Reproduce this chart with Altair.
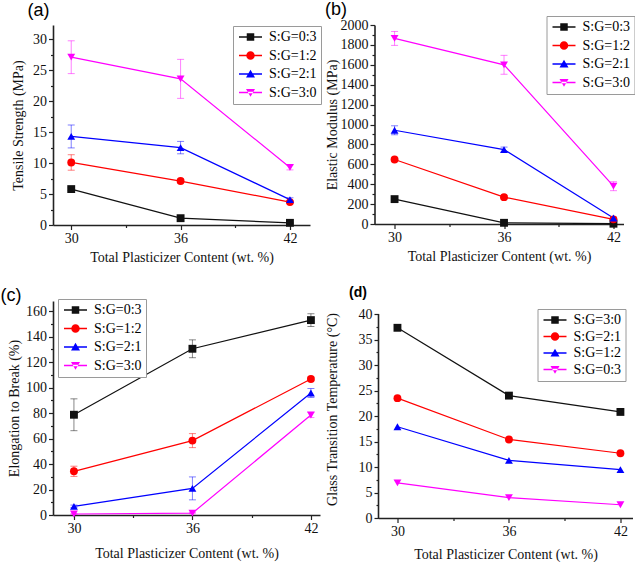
import math
import altair as alt
import pandas as pd

X_VALUES = [30, 36, 42]
SERIES_ABC = ["S:G=0:3", "S:G=1:2", "S:G=2:1", "S:G=3:0"]
SERIES_D = ["S:G=3:0", "S:G=2:1", "S:G=1:2", "S:G=0:3"]
COLORS = ["#111111", "#FF0000", "#0000FF", "#FF00FF"]
SHAPES = ["square", "circle", "triangle-up", "triangle-down"]

TENSILE = [[5.8, 1.1, 0.35], [10.1, 7.1, 3.7], [14.3, 12.5, 4.1], [27.1, 23.6, 9.3]]
TENSILE_ERR = [[0.2, 0.2, 0.1], [1.25, 0.3, 0.2], [1.85, 1.0, 0.3], [2.65, 3.15, 0.4]]
MODULUS = [[250, 12, 3], [648, 270, 47], [942, 748, 60], [1865, 1600, 380]]
MODULUS_ERR = [[10, 5, 2], [15, 15, 5], [45, 25, 10], [70, 95, 45]]
ELONG = [[78.7, 130.5, 153.0], [34.3, 58.4, 106.8], [6.8, 20.9, 95.8], [0.8, 1.5, 78.5]]
ELONG_ERR = [[12.5, 7.0, 5.0], [4.0, 5.5, 1.5], [1.0, 9.0, 3.5], [0.3, 0.5, 2.0]]
TG = [[37.3, 24.0, 20.8], [23.5, 15.4, 12.7], [17.9, 11.3, 9.5], [6.9, 4.0, 2.6]]
TG_AXIS_TOP = 40

X_TICKS = [30, 33, 36, 39, 42]
XTITLE = "Total Plasticizer Content (wt. %)"

SERIF = "Liberation Serif"
SANS = "Liberation Sans"

# legend symbols: a short line with the marker on it (unit path, only M/L/Z)
LINE = "M-1,-0.13L3.6,-0.13L3.6,0.13L-1,0.13Z "
CIRCLE = "M" + "L".join(
    f"{1.3 + 0.85 * math.cos(a * math.pi / 8):.3f},{0.85 * math.sin(a * math.pi / 8):.3f}"
    for a in range(16)
) + "Z"
LEGEND_PATHS = [
    LINE + "M0.55,-0.75L2.05,-0.75L2.05,0.75L0.55,0.75Z",
    LINE + CIRCLE,
    LINE + "M1.3,-0.85L2.2,0.7L0.4,0.7Z",
    LINE + "M1.3,0.85L2.2,-0.7L0.4,-0.7Z",
]


def frame(means, errs, series):
    rows = []
    for s, name in enumerate(series):
        for i, xv in enumerate(X_VALUES):
            m = means[s][i]
            e = errs[s][i] if errs else 0.0
            rows.append({"x": xv, "y": m, "lo": m - e, "hi": m + e, "series": name})
    return pd.DataFrame(rows)


def panel(label, df, series, ytitle, ydomain, yticks, ymajor, width, height,
          xdomain, legend_x, legend_y, title_dx, title_offset, title_size,
          title_weight, ytitle_pad, row_pad, xtitle_pad, has_err=True, axis_top=None):
    x_axis = alt.Axis(
        values=X_TICKS, format="d",
        labelExpr="datum.value % 6 == 0 ? datum.label : ''",
        tickSize={"condition": {"test": "datum.value % 6 != 0", "value": 2.5}, "value": 4.5},
        title=XTITLE, titlePadding=xtitle_pad, labelPadding=2, labelOverlap=False,
    )
    y_axis = alt.Axis(
        values=yticks, format="d", domain=axis_top is None,
        labelExpr=f"datum.value % {ymajor} == 0 ? datum.label : ''",
        tickSize={"condition": {"test": f"datum.value % {ymajor} != 0", "value": 2.5}, "value": 4.5},
        title=ytitle, titlePadding=ytitle_pad, labelPadding=2, labelOverlap=False,
    )
    xs = alt.Scale(domain=xdomain, nice=False, zero=False)
    ys = alt.Scale(domain=ydomain, nice=False, zero=False)
    cscale = alt.Scale(domain=series, range=COLORS)

    X = alt.X("x:Q", scale=xs, axis=x_axis)
    Y = alt.Y("y:Q", scale=ys, axis=y_axis)
    C = alt.Color("series:N", scale=cscale, legend=None)
    base = alt.Chart(df)
    layers = []
    if axis_top is not None:
        axis_df = pd.DataFrame({"x": [xdomain[0]], "y": [0], "y2": [axis_top]})
        layers.append(alt.Chart(axis_df).mark_rule(color="#222222", strokeWidth=1.6).encode(
            x=X, y=Y, y2="y2:Q"))
    if has_err:
        err_rule = base.mark_rule(strokeWidth=1, opacity=0.5).encode(
            x=X, y=alt.Y("lo:Q", scale=ys, axis=y_axis), y2="hi:Q", color=C,
        )
        err_cap = base.transform_fold(["lo", "hi"], as_=["end", "val"]).mark_tick(
            orient="horizontal", size=7, thickness=1, opacity=0.5
        ).encode(x=X, y=alt.Y("val:Q", scale=ys, axis=y_axis), color=C)
        layers += [err_rule, err_cap]
    layers.append(base.mark_line(strokeWidth=1.2).encode(x=X, y=Y, color=C, order="x:Q"))
    for k, name in enumerate(series):
        layers.append(
            base.transform_filter(alt.datum.series == name)
            .mark_point(filled=True, opacity=1, size=62, shape=SHAPES[k])
            .encode(x=X, y=Y, color=C)
        )
    leg = alt.Legend(
        title=None, orient="none", legendX=legend_x, legendY=legend_y,
        labelFont=SERIF, labelFontSize=14, labelColor="black", labelLimit=300,
        symbolSize=100, labelOffset=18, strokeColor="#9a9a9a", fillColor="white",
        padding=4, rowPadding=row_pad, symbolStrokeWidth=0, symbolOpacity=1,
    )
    layers.append(
        base.transform_filter("false").mark_point(filled=True, opacity=1).encode(
            color=alt.Color("series:N", scale=cscale, legend=leg),
            shape=alt.Shape("series:N", scale=alt.Scale(domain=series, range=LEGEND_PATHS), legend=leg),
        )
    )
    return alt.layer(*layers).resolve_scale(color="independent", shape="independent").properties(
        width=width, height=height,
        title=alt.TitleParams(label, anchor="start", frame="bounds", dx=title_dx,
                              offset=title_offset, font=SANS, fontSize=title_size,
                              fontWeight=title_weight, color="black"),
    )


pa = panel("(a)", frame(TENSILE, TENSILE_ERR, SERIES_ABC), SERIES_ABC,
           "Tensile Strength (MPa)", [0, 32.3], [i * 2.5 for i in range(13)], 5,
           257, 200, [29.0, 43.1], 180, 1, 16, 5, 18, "normal", 7, 4.5, 5)
pb = panel("(b)", frame(MODULUS, MODULUS_ERR, SERIES_ABC), SERIES_ABC,
           "Elastic Modulus (MPa)", [0, 2000], [i * 100 for i in range(21)], 200,
           249, 199, [28.9, 42.55], 172, -9, 0, -3, 18, "normal", 1, 4.5, 5)
pc = panel("(c)", frame(ELONG, ELONG_ERR, SERIES_ABC), SERIES_ABC,
           "Elongation to Break (%)", [0, 168], [i * 10 for i in range(17)], 20,
           267, 214, [28.94, 42.46], 5, -2, -7, -6, 18, "normal", 4, 4.5, 11)
pd_ = panel("(d)", frame(TG, None, SERIES_D), SERIES_D,
            "Glass Transition Temperature (°C)", [0, 42.75], [i * 2.5 for i in range(17)], 5,
            254, 218, [28.98, 42.65], 159, 9, 24, 0, 14, "bold", 19, 2.5, 9,
            has_err=False, axis_top=TG_AXIS_TOP)

chart = alt.concat(
    pa, pb, pc, pd_, columns=2, align="none",
    spacing=alt.RowColnumber(row=21, column=2.5),
).properties(
    padding={"left": 0, "top": 0, "right": 0, "bottom": 0}
).configure_view(stroke=None).configure_axis(
    grid=False, domainColor="#222222", domainWidth=1.6, tickColor="#222222", tickWidth=1.2,
    labelFont=SERIF, labelFontSize=14, labelColor="#111111",
    titleFont=SERIF, titleFontSize=14, titleFontWeight="normal", titleColor="#111111",
).configure_legend(
    labelFont=SERIF, labelFontSize=14, labelColor="black", labelLimit=300,
)

chart.save("out.html", embed_options={"renderer": "svg", "actions": False})
